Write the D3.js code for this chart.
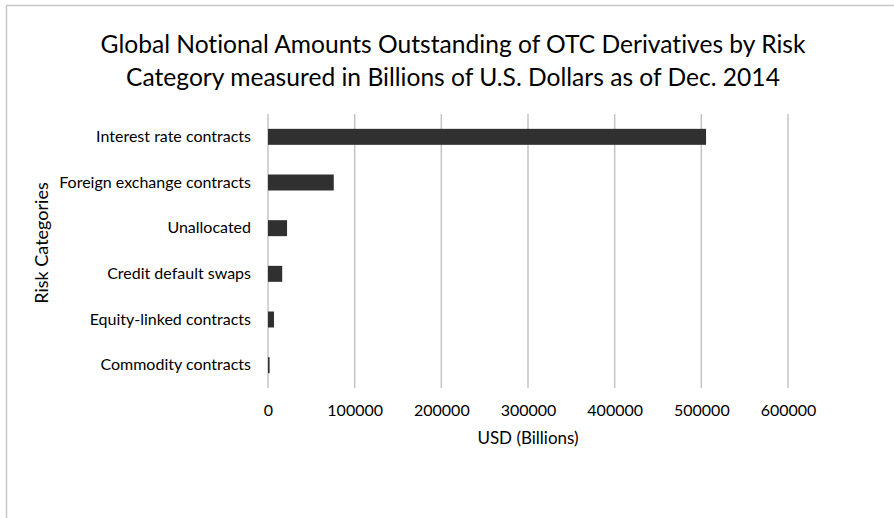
<!DOCTYPE html>
<html>
<head>
<meta charset="utf-8">
<script src="https://cdnjs.cloudflare.com/ajax/libs/d3/7.8.5/d3.min.js"></script>
<style>
  body { margin: 0; background: #fff; }
  text { font-family: Lato, "Open Sans", sans-serif; fill: #000; font-variant-ligatures: none; }
</style>
</head>
<body>
<div id="chart"></div>
<script>
var w = 894;
var h = 518;

// values (billions of USD)
var categories = ["Interest rate contracts", "Foreign exchange contracts", "Unallocated",
                  "Credit default swaps", "Equity-linked contracts", "Commodity contracts"];
var amounts = [505454, 75879, 22000, 16399, 6941, 1868];
var xTicks = [0, 100000, 200000, 300000, 400000, 500000, 600000];
var titleLines = ["Global Notional Amounts Outstanding of OTC Derivatives by Risk",
                  "Category measured in Billions of U.S. Dollars as of Dec. 2014"];

var plotLeft = 268, plotRight = 788, plotTop = 114, plotBottom = 388;

var svg = d3.select("#chart")
            .append("svg")
            .attr("width", w)
            .attr("height", h);

// outer frame of the chart area
svg.append("rect")
   .attr("x", 6.5).attr("y", 5.5)
   .attr("width", 900).attr("height", 530)
   .attr("fill", "none")
   .attr("stroke", "#c6c6c6")
   .attr("stroke-width", 1.5);

var x = d3.scaleLinear().domain([0, 600000]).range([plotLeft, plotRight]);
var y = d3.scaleBand().domain(categories).range([plotTop, plotBottom]).paddingInner(0.65).paddingOuter(0.325);

// grid lines
svg.selectAll("line.grid")
   .data(xTicks)
   .enter()
   .append("line")
   .attr("class", "grid")
   .attr("x1", function(d) { return x(d); })
   .attr("x2", function(d) { return x(d); })
   .attr("y1", plotTop)
   .attr("y2", plotBottom)
   .attr("stroke", "#c4c4c4")
   .attr("stroke-width", 1.5);

svg.selectAll("rect.bar")
   .data(amounts)
   .enter()
   .append("rect")
   .attr("class", "bar")
   .attr("x", x(0))
   .attr("y", function(d, i) { return y(categories[i]); })
   .attr("width", function(d) { return x(d) - x(0); })
   .attr("height", y.bandwidth())
   .attr("fill", "#303030");

// x axis labels
var xAxis = d3.axisBottom(x).tickValues(xTicks).tickSize(0).tickPadding(0).tickFormat(d3.format("d"));
var gx = svg.append("g")
   .attr("transform", "translate(0," + (plotBottom + 28) + ")")
   .call(xAxis);
gx.select(".domain").remove();
gx.selectAll("text")
  .attr("dy", 0)
  .attr("font-size", "16px")
  .style("font-family", "Lato, sans-serif")
  .attr("fill", "#000");

// y axis labels
var yAxis = d3.axisLeft(y).tickSize(0).tickPadding(17);
var gy = svg.append("g")
   .attr("transform", "translate(" + plotLeft + ",0)")
   .call(yAxis);
gy.select(".domain").remove();
gy.selectAll("text")
  .attr("font-size", "16px")
  .style("font-family", "Lato, sans-serif")
  .attr("fill", "#000");

// axis titles
svg.append("text")
   .text("USD (Billions)")
   .attr("text-anchor", "middle")
   .attr("x", 528)
   .attr("y", 444)
   .attr("font-size", "17px");

svg.append("text")
   .text("Risk Categories")
   .attr("text-anchor", "middle")
   .attr("transform", "translate(48,243) rotate(-90)")
   .attr("font-size", "18px");

// title
svg.selectAll("text.title")
   .data(titleLines)
   .enter()
   .append("text")
   .attr("class", "title")
   .text(function(d) { return d; })
   .attr("text-anchor", "middle")
   .attr("x", 453)
   .attr("y", function(d, i) { return 53 + i * 33; })
   .attr("font-size", "24.6px");
</script>
</body>
</html>
